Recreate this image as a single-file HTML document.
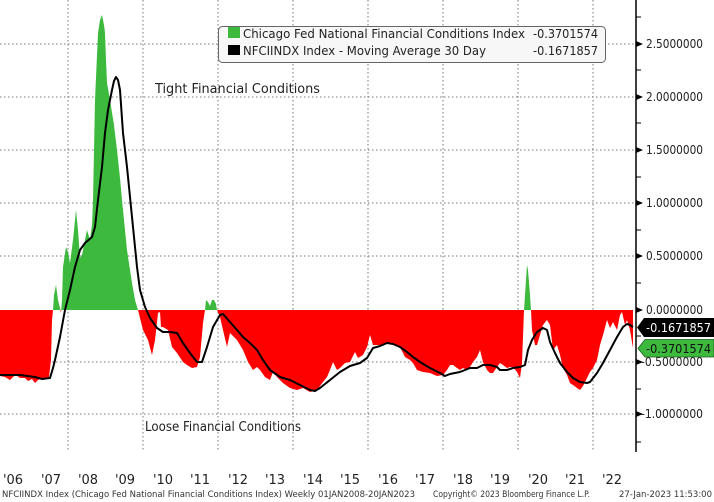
<!DOCTYPE html>
<html><head><meta charset="utf-8"><style>
html,body{margin:0;padding:0;background:#fff;}
svg{display:block;}
text{font-family:"DejaVu Sans","Liberation Sans",sans-serif;}
</style></head><body>
<svg width="714" height="502" viewBox="0 0 714 502" xmlns="http://www.w3.org/2000/svg">
<defs>
<clipPath id="above"><rect x="0" y="0" width="636" height="310"/></clipPath>
<clipPath id="below"><rect x="0" y="310" width="636" height="200"/></clipPath>
<polygon id="ser" points="0,310 0,376 5,377 10,380 13,377 16,375 20,378 25,378 28,381 32,379 35,383 38,380 42,378 46,379 49,377 51,360 52,320 53,310 54,295 56,285 58,300 60,308 61,313 62,300 63,267 66,247 68,252 70,263 73,240 76,210 78,230 80,258 82,255 84,245 87,230 90,240 92,225 93,200 94,150 95,100 98,33 100,20 102,15 104,25 105,33 106,60 107,83 110,100 114,125 117,150 120,178 122,200 125,230 127,250 130,270 132,283 135,300 138,310 140,318 143,330 148,340 152,355 155,340 158,313 160,312 161,327 163,327 168,330 172,347 177,353 183,362 187,365 192,368 197,367 200,357 203,323 205,310 206,300 208,302 210,306 212,300 214,300 216,304 217,310 220,317 223,330 227,347 230,333 237,340 243,350 248,362 253,370 257,367 260,370 265,377 270,380 273,372 277,377 283,383 290,388 297,390 303,388 310,392 317,390 323,382 327,377 330,370 333,362 337,370 340,368 345,363 350,362 355,352 358,358 363,355 367,347 370,335 373,345 380,345 387,343 393,343 400,347 405,357 410,360 413,363 417,370 423,372 430,373 437,376 443,375 447,370 450,365 453,365 457,368 460,370 463,368 467,370 470,367 473,362 477,357 480,350 483,362 487,370 490,373 493,373 497,367 500,363 503,365 507,368 510,367 513,367 517,372 520,378 522,363 524,310 526,280 527,265 528,270 530,295 531,310 532,330 535,345 537,345 540,335 543,325 547,320 550,325 553,350 557,345 560,355 563,368 567,375 570,383 573,385 577,388 580,390 583,386 587,378 590,372 593,368 597,360 600,345 603,335 607,320 610,328 613,322 617,330 620,315 622,312 625,325 627,320 630,330 633,348 633,310"/>
</defs>
<rect width="714" height="502" fill="#fff"/>
<!-- gridlines -->
<g stroke="#777" stroke-width="1" stroke-dasharray="1.5 2.5" fill="none">
<line x1="0" y1="44" x2="636" y2="44"/>
<line x1="0" y1="97" x2="636" y2="97"/>
<line x1="0" y1="150" x2="636" y2="150"/>
<line x1="0" y1="203" x2="636" y2="203"/>
<line x1="0" y1="256" x2="636" y2="256"/>
<line x1="0" y1="362" x2="636" y2="362"/>
<line x1="0" y1="414" x2="636" y2="414"/>
<line x1="68" y1="0" x2="68" y2="452"/>
<line x1="143" y1="0" x2="143" y2="452"/>
<line x1="218" y1="0" x2="218" y2="452"/>
<line x1="293" y1="0" x2="293" y2="452"/>
<line x1="368" y1="0" x2="368" y2="452"/>
<line x1="443" y1="0" x2="443" y2="452"/>
<line x1="518" y1="0" x2="518" y2="452"/>
<line x1="593" y1="0" x2="593" y2="452"/>
</g>
<!-- area -->
<use href="#ser" clip-path="url(#above)" fill="#3dba3d"/>
<use href="#ser" clip-path="url(#below)" fill="#ff0000"/>
<!-- moving average -->
<polyline fill="none" stroke="#000" stroke-width="2" stroke-linejoin="round" points="0,375 20,375 35,377 42,379 50,378 53,368 55,360 60,337 65,310 70,290 75,267 80,250 85,243 92,237 95,227 98,200 102,167 105,133 108,110 112,90 114,81 116,77 118,80 120,90 123,133 127,167 132,217 137,267 140,290 145,307 150,318 157,328 163,332 170,332 177,333 183,343 190,353 197,362 202,362 207,347 213,327 220,315 223,314 230,322 237,330 243,337 250,343 257,350 263,360 270,370 280,377 290,380 300,385 310,390 315,391 320,388 330,380 340,372 350,366 360,363 367,358 373,348 380,346 387,343 393,344 400,347 407,352 413,357 420,362 430,368 440,373 445,376 450,374 460,372 470,368 477,368 483,365 490,365 497,367 500,370 507,370 513,368 520,367 525,365 528,350 532,340 537,332 543,328 547,330 550,342 555,353 560,363 567,372 573,378 580,382 587,383 590,382 597,373 603,363 610,350 617,337 623,327 627,324 630,325 633,327"/>
<!-- annotations -->
<text x="155" y="93" font-size="13" fill="#222" textLength="165" lengthAdjust="spacingAndGlyphs">Tight Financial Conditions</text>
<text x="145" y="431" font-size="13" fill="#222" textLength="156" lengthAdjust="spacingAndGlyphs">Loose Financial Conditions</text>
<!-- legend -->
<rect x="218.5" y="26.5" width="387" height="36" rx="4" fill="#f7f7f7" stroke="#666" stroke-width="1"/>
<rect x="228" y="27" width="12" height="11" fill="#3dba3d"/>
<rect x="228" y="45" width="12" height="10" fill="#000"/>
<text x="243" y="38" font-size="12" fill="#222" textLength="282" lengthAdjust="spacingAndGlyphs">Chicago Fed National Financial Conditions Index</text>
<text x="533" y="38" font-size="12" fill="#222" textLength="65" lengthAdjust="spacingAndGlyphs">-0.3701574</text>
<text x="243" y="55" font-size="12" fill="#222" textLength="243" lengthAdjust="spacingAndGlyphs">NFCIINDX Index - Moving Average 30 Day</text>
<text x="533" y="55" font-size="12" fill="#222" textLength="65" lengthAdjust="spacingAndGlyphs">-0.1671857</text>
<!-- right axis -->
<line x1="636" y1="0" x2="636" y2="452" stroke="#000" stroke-width="1.5"/>
<g stroke="#000" stroke-width="1">
<line x1="636" y1="17" x2="641" y2="17"/>
<line x1="636" y1="70" x2="641" y2="70"/>
<line x1="636" y1="123" x2="641" y2="123"/>
<line x1="636" y1="177" x2="641" y2="177"/>
<line x1="636" y1="230" x2="641" y2="230"/>
<line x1="636" y1="283" x2="641" y2="283"/>
<line x1="636" y1="336" x2="641" y2="336"/>
<line x1="636" y1="389" x2="641" y2="389"/>
<line x1="636" y1="442" x2="641" y2="442"/>
</g>
<g fill="#000">
<polygon points="636,41 643,44 636,47"/>
<polygon points="636,94 643,97 636,100"/>
<polygon points="636,147 643,150 636,153"/>
<polygon points="636,200 643,203 636,206"/>
<polygon points="636,253 643,256 636,259"/>
<polygon points="636,307 643,310 636,313"/>
<polygon points="636,359 643,362 636,365"/>
<polygon points="636,411 643,414 636,417"/>
</g>
<g font-size="12" fill="#222">
<text x="646" y="48" textLength="57" lengthAdjust="spacingAndGlyphs">2.5000000</text>
<text x="646" y="101" textLength="57" lengthAdjust="spacingAndGlyphs">2.0000000</text>
<text x="646" y="154" textLength="57" lengthAdjust="spacingAndGlyphs">1.5000000</text>
<text x="646" y="207" textLength="57" lengthAdjust="spacingAndGlyphs">1.0000000</text>
<text x="646" y="260" textLength="57" lengthAdjust="spacingAndGlyphs">0.5000000</text>
<text x="646" y="314" textLength="57" lengthAdjust="spacingAndGlyphs">0.0000000</text>
<text x="641" y="366" textLength="62" lengthAdjust="spacingAndGlyphs">-0.5000000</text>
<text x="641" y="418" textLength="62" lengthAdjust="spacingAndGlyphs">-1.0000000</text>
</g>
<!-- value tags -->
<polygon points="637,327.5 644,318 714,318 714,337 644,337" fill="#000"/>
<text x="646" y="332" font-size="12" fill="#fff" textLength="65" lengthAdjust="spacingAndGlyphs">-0.1671857</text>
<polygon points="638,348.5 645,339.5 714,339.5 714,357 645,357" fill="#3dba3d" stroke="#1a5a1a" stroke-width="0.8"/>
<text x="646" y="353" font-size="12" fill="#111" textLength="65" lengthAdjust="spacingAndGlyphs">-0.3701574</text>
<!-- x axis labels -->
<g font-size="13" fill="#222" text-anchor="middle">
<text x="13" y="484">'06</text>
<text x="51" y="484">'07</text>
<text x="88" y="484">'08</text>
<text x="125" y="484">'09</text>
<text x="163" y="484">'10</text>
<text x="200" y="484">'11</text>
<text x="238" y="484">'12</text>
<text x="275" y="484">'13</text>
<text x="313" y="484">'14</text>
<text x="350" y="484">'15</text>
<text x="388" y="484">'16</text>
<text x="425" y="484">'17</text>
<text x="463" y="484">'18</text>
<text x="500" y="484">'19</text>
<text x="538" y="484">'20</text>
<text x="575" y="484">'21</text>
<text x="612" y="484">'22</text>
</g>
<!-- footer -->
<g font-size="9" fill="#333">
<text x="2" y="497" textLength="413" lengthAdjust="spacingAndGlyphs">NFCIINDX Index (Chicago Fed National Financial Conditions Index) Weekly 01JAN2008-20JAN2023</text>
<text x="433" y="497" textLength="157" lengthAdjust="spacingAndGlyphs">Copyright© 2023 Bloomberg Finance L.P.</text>
<text x="619" y="497" textLength="93" lengthAdjust="spacingAndGlyphs">27-Jan-2023 11:53:00</text>
</g>
</svg>
</body></html>
